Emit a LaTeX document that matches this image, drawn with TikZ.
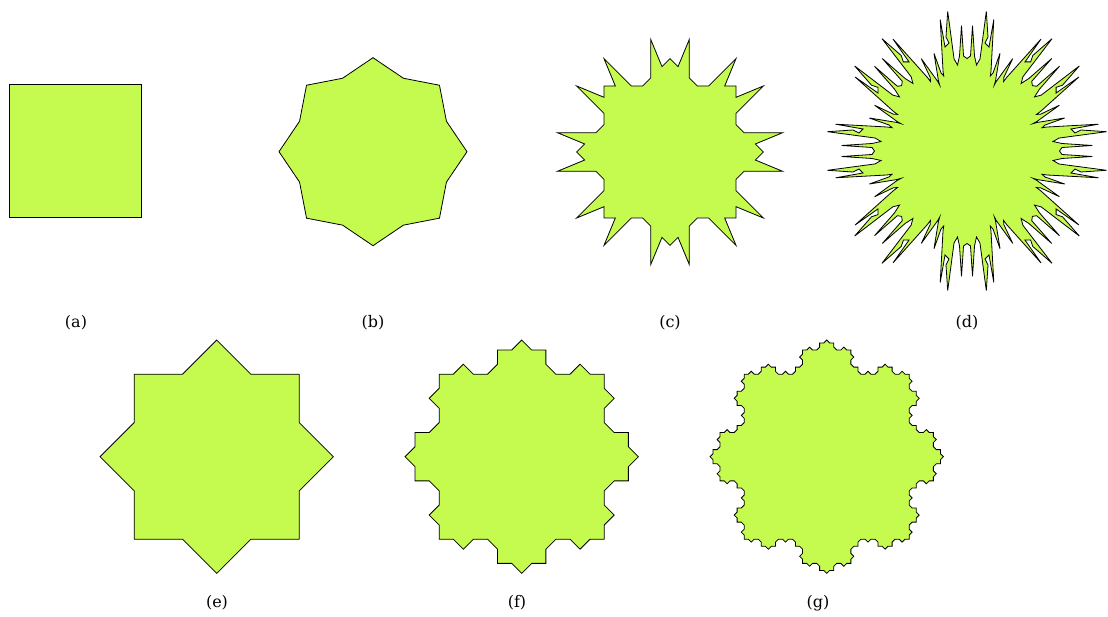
\documentclass[tikz,border=0pt]{standalone}
\usepackage{fontspec}
\setmainfont{DejaVu Serif}
\usepackage{tikz}
\usetikzlibrary{lindenmayersystems}
\definecolor{leaf}{RGB}{197,250,78}
\pgfdeclarelindenmayersystem{Koch eight}{
  \rule{F -> F+F--F+F}
}
\tikzset{
  flake/.style={fill=leaf, draw=black, line width=0.8pt, line join=miter},
  caption/.style={font=\fontsize{16}{18}\selectfont, inner sep=0pt}
}

\begin{document}
\begin{tikzpicture}[x=1pt, y=1pt]
\useasboundingbox (0,0) rectangle (1108,616);

% top row
\filldraw[flake] (9.2,398.7) rectangle (141.7,531.3);

\begin{scope}[shift={(373,464.3)}]
\filldraw[flake] (90:94)
  \foreach \k in {0,...,7} { -- ({67.5-45*\k}:79.5) -- ({45-45*\k}:94) } -- cycle;
\end{scope}

\begin{scope}[shift={(670,464)}, scale=66]
\filldraw[flake] (0,1.41421)
  \foreach \k in {0,...,7} {
    -- ([rotate=-45*\k]0.12132,1.29289) -- ([rotate=-45*\k]0.29289,1.70711)
    -- ([rotate=-45*\k]0.29289,1.12132) -- ([rotate=-45*\k]0.41421,1)
    -- ([rotate=-45*\k]0.58579,1) -- ([rotate=-45*\k]1,1.41421)
    -- ([rotate=-45*\k]0.82843,1) -- ([rotate=-45*\k]1,1) } -- cycle;
\end{scope}

\begin{scope}[shift={(967,465)}]
\filldraw[flake] (0,92.5)
  \foreach \k in {0,...,7} {
    -- ([rotate=-45*\k]3.5,95) -- ([rotate=-45*\k]5.5,125.3) -- ([rotate=-45*\k]7.5,95)
    -- ([rotate=-45*\k]9.5,86) -- ([rotate=-45*\k]13,92) -- ([rotate=-45*\k]19.3,139.5)
    -- ([rotate=-45*\k]21,114) -- ([rotate=-45*\k]18,108) -- ([rotate=-45*\k]22,104)
    -- ([rotate=-45*\k]26.8,131.5) -- ([rotate=-45*\k]24,80) -- ([rotate=-45*\k]23.3,75)
    -- ([rotate=-45*\k]26,78) -- ([rotate=-45*\k]33,97.7) -- ([rotate=-45*\k]28.5,70)
    -- ([rotate=-45*\k]27.3,66)
    -- ([rotate=-45*\k]29.3,69.6) -- ([rotate=-45*\k]45.7,92.4) -- ([rotate=-45*\k]36.8,73.5)
    -- ([rotate=-45*\k]36.6,69.5) -- ([rotate=-45*\k]39.6,73.5) -- ([rotate=-45*\k]74,111.9)
    -- ([rotate=-45*\k]58,89.1) -- ([rotate=-45*\k]63.6,89.1) -- ([rotate=-45*\k]65.8,95.5)
    -- ([rotate=-45*\k]85,112.3) -- ([rotate=-45*\k]55.9,74.2) -- ([rotate=-45*\k]54.1,67.5)
    -- ([rotate=-45*\k]61.9,72.5) -- ([rotate=-45*\k]84.7,92.5) -- ([rotate=-45*\k]64.7,69.6)
    -- ([rotate=-45*\k]65.4,65.4) } -- cycle;
\end{scope}

\node[caption] (lbla) at (76,293) {(a)};
\node[caption] (lblb) at (373,293) {(b)};
\node[caption] (lblc) at (670,293) {(c)};
\node[caption] (lbld) at (967,293) {(d)};

% bottom row
\begin{scope}[shift={(134.2,241.8)}]
\filldraw[flake, l-system={Koch eight, axiom=F--F--F--F, order=1, angle=45, step=48.327pt}]
  (0,0) lindenmayer system -- cycle;
\end{scope}
\begin{scope}[shift={(439.2,241.8)}]
\filldraw[flake, l-system={Koch eight, axiom=F--F--F--F, order=2, angle=45, step=14.155pt}]
  (0,0) lindenmayer system -- cycle;
\end{scope}
\begin{scope}[shift={(744.2,241.8)}]
\filldraw[flake, l-system={Koch eight, axiom=F--F--F--F, order=3, angle=45, step=4.1458pt}]
  (0,0) lindenmayer system -- cycle;
\end{scope}

\node[caption] (lble) at (217,13) {(e)};
\node[caption] (lblf) at (517,13) {(f)};
\node[caption] (lblg) at (818,13) {(g)};
\end{tikzpicture}
\end{document}
